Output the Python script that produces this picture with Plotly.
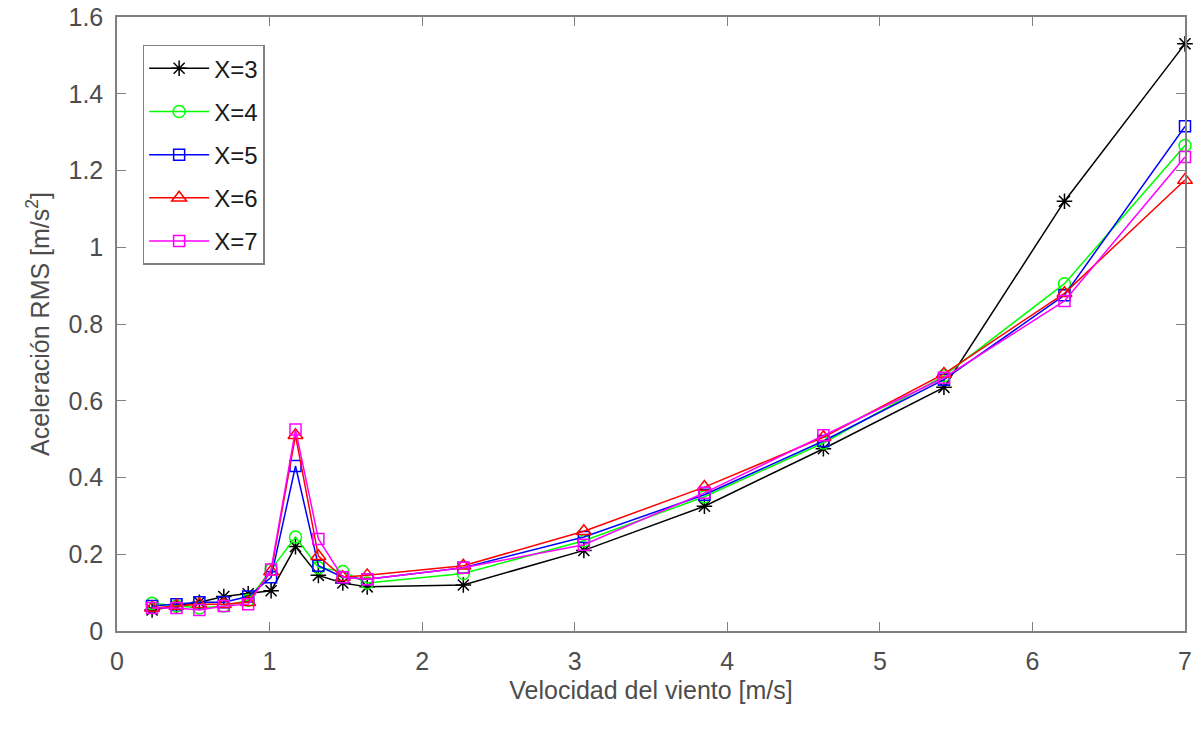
import plotly.graph_objects as go

wind = [0.23, 0.39, 0.54, 0.70, 0.86, 1.01, 1.17, 1.32, 1.48, 1.64, 2.27, 3.06, 3.85, 4.63, 5.42, 6.21, 7.0]

x3 = [0.055, 0.065, 0.075, 0.090, 0.097, 0.105, 0.220, 0.145, 0.125, 0.115, 0.120, 0.210, 0.325, 0.475, 0.635, 1.120, 1.530]
x4 = [0.072, 0.065, 0.060, 0.065, 0.080, 0.160, 0.245, 0.165, 0.155, 0.125, 0.150, 0.235, 0.350, 0.490, 0.665, 0.905, 1.265]
x5 = [0.065, 0.070, 0.075, 0.075, 0.090, 0.140, 0.430, 0.170, 0.140, 0.135, 0.165, 0.245, 0.355, 0.495, 0.655, 0.875, 1.315]
x6 = [0.060, 0.065, 0.070, 0.070, 0.075, 0.155, 0.510, 0.195, 0.140, 0.145, 0.170, 0.260, 0.375, 0.505, 0.670, 0.880, 1.175]
x7 = [0.060, 0.060, 0.055, 0.065, 0.070, 0.160, 0.525, 0.240, 0.140, 0.135, 0.165, 0.225, 0.360, 0.510, 0.660, 0.860, 1.235]

series = [
    ("X=3", x3, "#000000", "asterisk-open", 13),
    ("X=4", x4, "#00ff00", "circle-open", 12),
    ("X=5", x5, "#0000ff", "square-open", 11),
    ("X=6", x6, "#ff0000", "triangle-up-open", 13),
    ("X=7", x7, "#ff00ff", "square-open", 11),
]

fig = go.Figure()
for name, ys, col, sym, sz in series:
    fig.add_trace(go.Scatter(
        x=wind, y=ys, name=name, mode="lines+markers", legendgroup=name,
        line=dict(color=col, width=1.5),
        marker=dict(symbol=sym, size=sz, color=col, line=dict(color=col, width=1.5)),
        cliponaxis=False,
    ))

tick_col = "#4d4d4d"
common = dict(
    showline=True, linecolor="#808080", linewidth=1.5, mirror="ticks",
    ticks="inside", ticklen=9, tickwidth=1, tickcolor="#808080",
    showgrid=False, zeroline=False, ticklabelstandoff=7, automargin=False,
    tickfont=dict(family="Liberation Sans, Arial", size=25, color=tick_col),
)
fig.update_xaxes(range=[0, 7], dtick=1, **common,
                 title=dict(text="Velocidad del viento [m/s]",
                            font=dict(family="Liberation Sans, Arial", size=25, color=tick_col),
                            standoff=8))
fig.update_yaxes(range=[0, 1.6], dtick=0.2, **common,
                 title=dict(text="Aceleración RMS [m/s<sup>2</sup>]",
                            font=dict(family="Liberation Sans, Arial", size=25, color=tick_col),
                            standoff=12))

fig.update_layout(
    width=1202, height=733,
    margin=dict(l=117, r=17, t=17, b=102),
    paper_bgcolor="white", plot_bgcolor="white",
    legend=dict(x=0.024, y=0.955, xanchor="left", yanchor="top",
                bgcolor="white", bordercolor="#808080", borderwidth=1.5,
                font=dict(family="Liberation Sans, Arial", size=24, color="#1a1a1a"),
                itemwidth=60, tracegroupgap=9),
    showlegend=True,
)

fig.write_html("out.html")
